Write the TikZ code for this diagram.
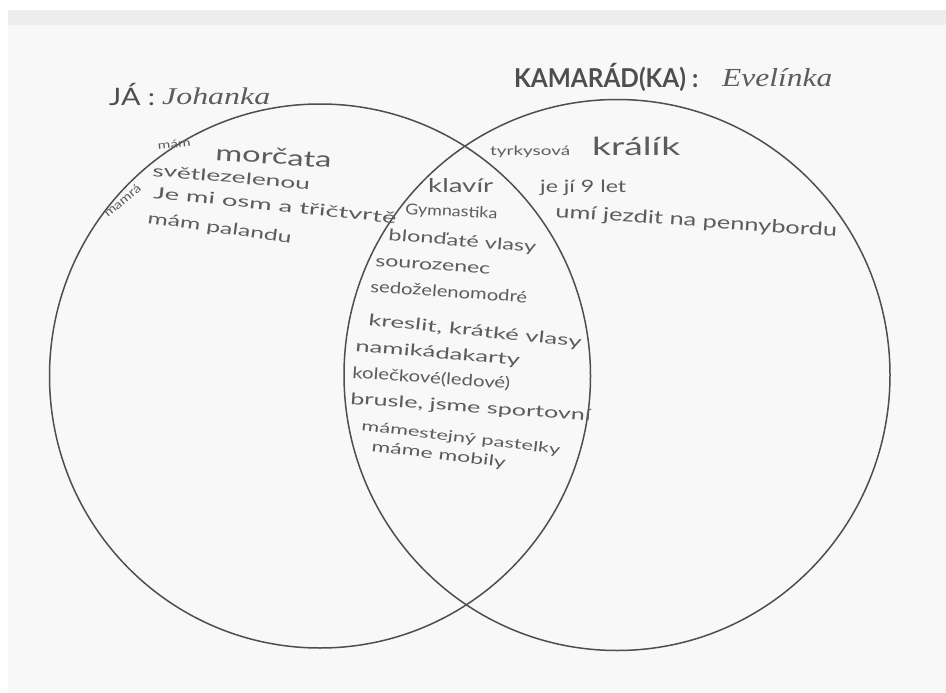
\documentclass[tikz,border=0pt]{standalone}
\usepackage{fontspec}
\usepackage{graphicx}
\usetikzlibrary{shapes.geometric}
\setmainfont{Lato}
\newfontfamily\scriptfnt{Liberation Serif}
\definecolor{ink}{HTML}{5C5C5C}
\definecolor{pencil}{HTML}{4E4E4E}
\definecolor{paper}{HTML}{F8F8F9}
\definecolor{band}{HTML}{ECEDED}
\newcommand{\fs}[1]{\fontsize{#1}{#1}\selectfont}
\newcommand{\fitw}[2]{\resizebox{#1pt}{\height}{#2}}
\tikzset{
  hw/.style={inner sep=0pt, anchor=base west, text=ink},
  circ/.style={draw=pencil, line width=1.5pt, ellipse, inner sep=0pt, outer sep=0pt}
}
\begin{document}
\begin{tikzpicture}[x=1pt,y=-1pt]
\useasboundingbox (0,0) rectangle (946,693);
\fill[white] (0,0) rectangle (946,693);
\fill[band] (8,10) rectangle (946,25);
\fill[paper] (8,25) rectangle (946,693);

% circles
\node[circ, minimum width=541pt, minimum height=544pt] (me) at (320,376) {};
\node[circ, minimum width=546pt, minimum height=551pt] (friend) at (617,375) {};

% headings
\node[hw, text=pencil, font=\fs{24}] (ja) at (109,106) {\fitw{46}{JÁ :}};
\node[hw, font=\scriptfnt\itshape\fs{24}] (johanka) at (162,104) {\fitw{108}{Johanka}};
\node[hw, text=pencil, font=\bfseries\fs{26}] (kamarad) at (514,88) {\fitw{184}{KAMARÁD(KA) :}};
\node[hw, font=\scriptfnt\itshape\fs{26}] (evelinka) at (722,86) {\fitw{110}{Evelínka}};

% left only
\node[hw, font=\fs{11}, rotate=6] (mam) at (158,150) {\fitw{33}{mám}};
\node[hw, font=\fs{22}, rotate=-4] (morcata) at (215,160) {\fitw{116}{morčata}};
\node[hw, font=\fs{12}, rotate=40] (mamra) at (108,218) {\fitw{44}{mamrá}};
\node[hw, font=\fs{16}, rotate=-5] (svetle) at (152,176) {\fitw{158}{světlezelenou}};
\node[hw, font=\fs{16}, rotate=-6] (jemi) at (153,198) {\fitw{244}{Je mi osm a třičtvrtě}};
\node[hw, font=\fs{16}, rotate=-8] (palandu) at (147,223) {\fitw{145}{mám palandu}};

% both
\node[hw, font=\fs{19}] (klavir) at (428,192) {\fitw{65}{klavír}};
\node[hw, font=\fs{15}, rotate=-3] (gymn) at (405,214) {\fitw{92}{Gymnastika}};
\node[hw, font=\fs{16}, rotate=-5] (blond) at (388,240) {\fitw{148}{blonďaté vlasy}};
\node[hw, font=\fs{16}, rotate=-4] (souroz) at (375,266) {\fitw{115}{sourozenec}};
\node[hw, font=\fs{16}, rotate=-4] (sedo) at (370,292) {\fitw{157}{sedoželenomodré}};
\node[hw, font=\fs{16}, rotate=-6] (kreslit) at (368,325) {\fitw{214}{kreslit, krátké vlasy}};
\node[hw, font=\fs{16}, rotate=-5] (namik) at (355,351) {\fitw{165}{namikádakarty}};
\node[hw, font=\fs{16}, rotate=-4] (koleck) at (352,378) {\fitw{158}{kolečkové(ledové)}};
\node[hw, font=\fs{16}, rotate=-4] (brusle) at (350,404) {\fitw{241}{brusle, jsme sportovní}};
\node[hw, font=\fs{14}, rotate=-7] (stejny) at (361,430) {\fitw{200}{mámestejný pastelky}};
\node[hw, font=\fs{15}, rotate=-7] (mobily) at (371,451) {\fitw{135}{máme mobily}};

% right only
\node[hw, font=\fs{13}] (tyrk) at (490,156) {\fitw{80}{tyrkysová}};
\node[hw, font=\fs{25}] (kralik) at (592,156) {\fitw{88}{králík}};
\node[hw, font=\fs{17}] (jeji) at (540,192) {\fitw{86}{je jí 9 let}};
\node[hw, font=\fs{18}, rotate=-4] (umi) at (555,217) {\fitw{282}{umí jezdit na pennybordu}};
\end{tikzpicture}
\end{document}
